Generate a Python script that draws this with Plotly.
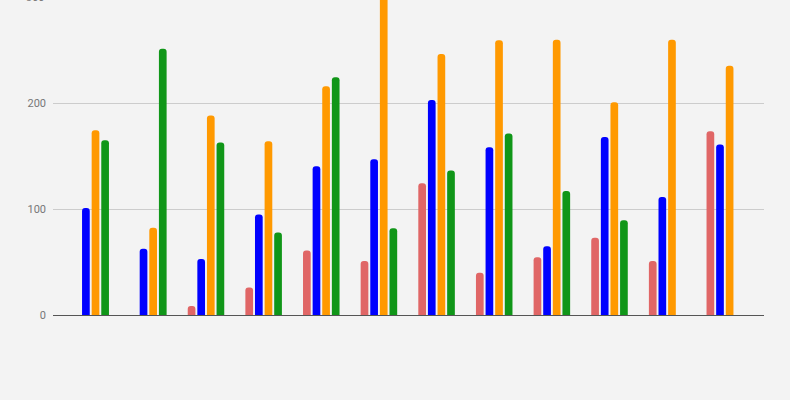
import plotly.graph_objects as go

# Group index along the x axis (12 groups, no category labels shown)
groups = list(range(12))

# Series values per group (None = no bar in that slot)
red_vals = [None, None, 8.5, 26, 61, 51, 124.5, 40, 54.5, 73, 51, 173.5]
blue_vals = [101, 62.5, 53, 95, 140.5, 147, 203, 158.5, 65, 168, 111.5, 161]
orange_vals = [174.5, 82.5, 188.5, 164, 216, 310, 246.5, 259.5, 260, 201, 260, 235.5]
green_vals = [165, 251.5, 163, 78, 224.5, 82, 136.5, 171.5, 117, 89.5, None, None]

# Y axis ticks
tick_vals = [0, 100, 200]
tick_text = ["0", "100", "200"]
top_tick = 300
y_max = 297.5

series = [
    (red_vals, "#e06666"),
    (blue_vals, "#0000ff"),
    (orange_vals, "#ff9900"),
    (green_vals, "#109618"),
]

fig = go.Figure()
for vals, color in series:
    fig.add_trace(go.Bar(
        x=groups,
        y=vals,
        marker=dict(color=color, line=dict(width=0)),
        showlegend=False,
        hoverinfo="skip",
    ))

fig.update_layout(
    width=790,
    height=400,
    margin=dict(l=53, r=26, t=0, b=85),
    paper_bgcolor="#f3f3f3",
    plot_bgcolor="#f3f3f3",
    barmode="group",
    bargap=0.333,
    bargroupgap=0.2,
    barcornerradius=3,
    font=dict(family="Roboto", size=11, color="#777777"),
    xaxis=dict(
        range=[-0.654, 11.68],
        showticklabels=False,
        showgrid=False,
        zeroline=False,
        showline=True,
        linecolor="#555555",
        linewidth=1.3,
        ticks="",
    ),
    yaxis=dict(
        range=[0, y_max],
        tickvals=tick_vals,
        ticktext=tick_text,
        showgrid=True,
        gridcolor="#cccccc",
        gridwidth=1,
        zeroline=False,
        showline=False,
        ticks="",
        ticklabelstandoff=6,
    ),
)

# Tick label for the top gridline, which sits just above the plot area
fig.add_annotation(
    x=0, xref="paper", xanchor="right", xshift=-6,
    y=top_tick / y_max, yref="paper", yanchor="middle",
    text=str(top_tick), showarrow=False,
    font=dict(family="Roboto", size=11, color="#777777"),
)

fig.write_html("out.html")
